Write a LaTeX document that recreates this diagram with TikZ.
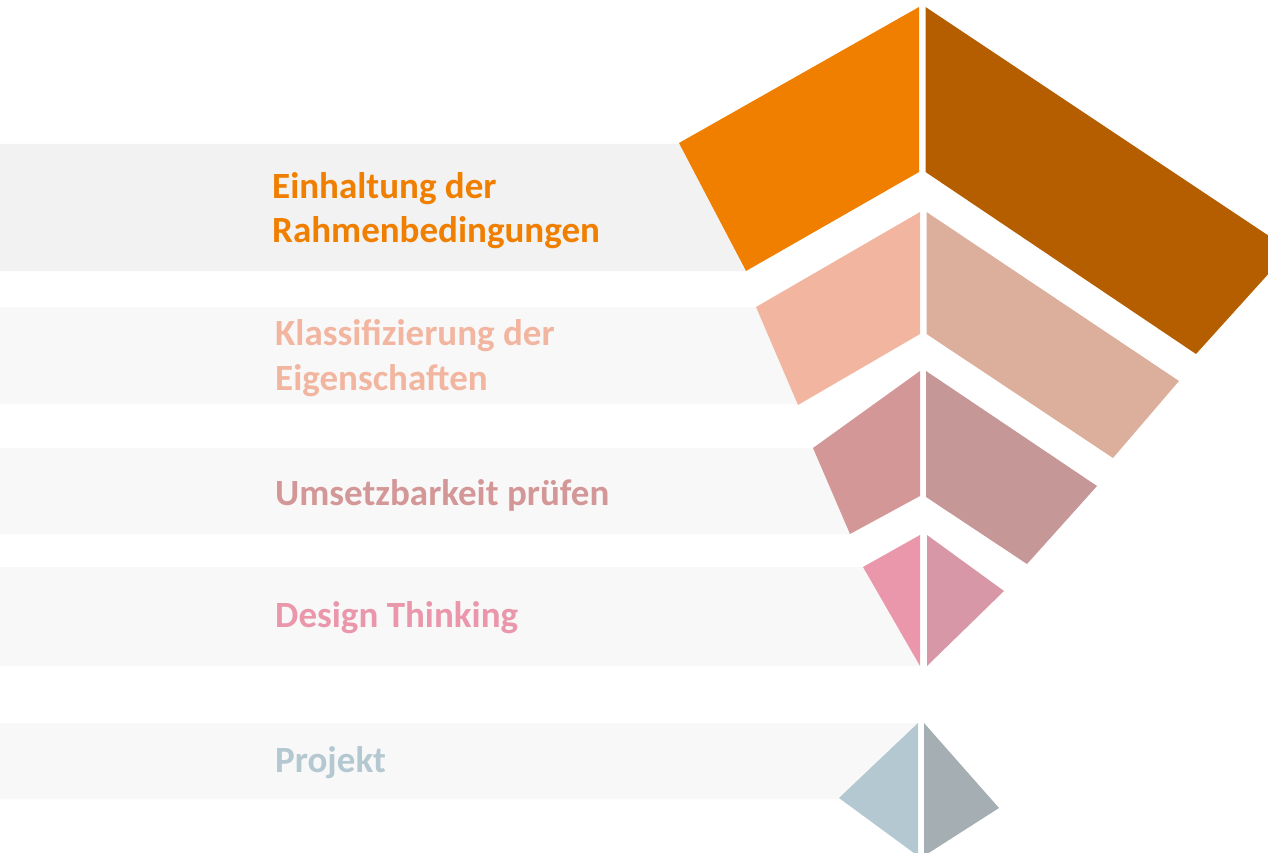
\documentclass[tikz,border=0pt]{standalone}
\usepackage{fontspec}
\setmainfont{Carlito}
\definecolor{cA}{HTML}{F07F00}
\definecolor{cAd}{HTML}{B55E00}
\definecolor{cB}{HTML}{F2B6A0}
\definecolor{cBd}{HTML}{DCAE9C}
\definecolor{cC}{HTML}{D49797}
\definecolor{cCd}{HTML}{C59796}
\definecolor{cD}{HTML}{EA97AB}
\definecolor{cDd}{HTML}{D897A6}
\definecolor{cE}{HTML}{B3C8D0}
\definecolor{cEd}{HTML}{A5AFB3}
\definecolor{bandA}{HTML}{F2F2F2}
\definecolor{bandB}{HTML}{F8F8F8}
\tikzset{
  lbl/.style={anchor=base west, inner sep=0pt, font=\bfseries\fontsize{37}{44}\selectfont},
}
\begin{document}
\begin{tikzpicture}[x=1pt,y=-1pt]
\useasboundingbox (0,0) rectangle (1268,853);
\clip (0,0) rectangle (1268,853);
% bands
\fill[bandA] (0,144) -- (681,144) -- (745,271) -- (0,271) -- cycle;
\fill[bandB] (0,307) -- (757,307) -- (798,404) -- (0,404) -- cycle;
\fill[bandB] (0,448) -- (814,448) -- (850,534) -- (0,534) -- cycle;
\fill[bandB] (0,567) -- (864,567) -- (920,666) -- (0,666) -- cycle;
\fill[bandB] (0,723) -- (918,723) -- (839,799) -- (0,799) -- cycle;
% tier 1
\fill[cA] (679,143) -- (919,7) -- (919,172) -- (746,271) -- cycle;
\fill[cAd] (925.5,7) -- (1290,250) -- (1196,354) -- (925.5,172) -- cycle;
% tier 2
\fill[cB] (756,307) -- (920,212) -- (920,334) -- (798,405) -- cycle;
\fill[cBd] (926.5,212) -- (1179,381) -- (1113,458) -- (926.5,334) -- cycle;
% tier 3
\fill[cC] (813,448) -- (920,371) -- (920,496) -- (850,534) -- cycle;
\fill[cCd] (926,371) -- (1097,486) -- (1027,564) -- (926,497) -- cycle;
% tier 4
\fill[cD] (863,567) -- (920,535) -- (920,666) -- cycle;
\fill[cDd] (927,535) -- (1004,591) -- (927,666) -- cycle;
% tier 5
\fill[cE] (839,798) -- (918,723) -- (918,856) -- cycle;
\fill[cEd] (924,723) -- (999,808) -- (924,856) -- cycle;
% labels
\node[lbl, text=cA] (t1a) at (272,198) {Einhaltung der};
\node[lbl, text=cA] (t1b) at (272,242) {Rahmenbedingungen};
\node[lbl, text=cB] (t2a) at (275,345) {Klassifizierung der};
\node[lbl, text=cB] (t2b) at (275,390) {Eigenschaften};
\node[lbl, text=cC] (t3) at (275,505) {Umsetzbarkeit prüfen};
\node[lbl, text=cD] (t4) at (275,627) {Design Thinking};
\node[lbl, text=cE] (t5) at (275,772) {Projekt};
\end{tikzpicture}
\end{document}
